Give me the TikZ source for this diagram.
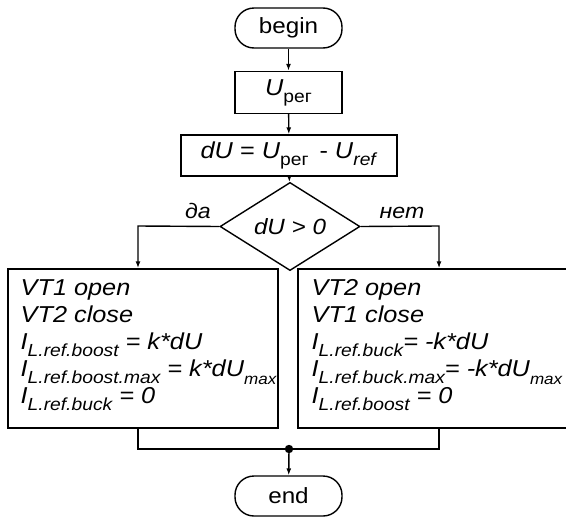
\documentclass[tikz,border=0pt]{standalone}
\usepackage{fontspec}
\setmainfont[FakeStretch=1.1]{Liberation Sans}
\usetikzlibrary{arrows.meta,shapes.geometric}

% subscripts in the flowchart's own style
\newcommand{\lowsub}[1]{\raisebox{-0.3em}{\fontsize{17.5}{17.5}\selectfont #1}}
\newcommand{\lowsubsmall}[1]{\raisebox{-0.34em}{\fontsize{15.5}{15.5}\selectfont #1}}

\begin{document}
\begin{tikzpicture}[x=1pt,y=-1pt,
  line width=1.4pt,
  every node/.style={font=\fontsize{23}{27}\selectfont, inner sep=0pt},
  term/.style={draw, rectangle, rounded corners=19pt, minimum width=107pt, minimum height=40pt, font=\fontsize{22}{26}\selectfont},
  proc/.style={draw, rectangle, minimum height=42pt},
  cond/.style={draw, diamond, minimum width=140pt, minimum height=53pt, font=\fontsize{22}{25}\selectfont\itshape},
  action/.style={draw, rectangle, minimum width=270pt, minimum height=159pt},
  actiontext/.style={anchor=north west, align=left, font=\fontsize{23}{27}\selectfont\itshape},
  flow/.style={-{Latex[length=7pt,width=5pt]}},
  lbl/.style={font=\fontsize{21}{24}\selectfont\itshape, anchor=base}
]
\useasboundingbox (0,0) rectangle (566,517);

\node[term] (begin) at (288.5,28) {begin};
\node[proc, minimum width=107pt] (uper) at (288.5,92.5) {\textit{U}\lowsub{рег}};
\node[proc, minimum width=216pt, minimum height=41pt] (du) at (289,155.5)
  {\textit{dU} = \textit{U}\lowsub{рег}\, - \textit{U}\lowsub{\textit{ref}}};
\node[cond] (cond) at (290,226.5) {dU > 0};

% the two branches: boxes and their statements
\node[action] (left) at (143,348.5) {};
\node[action] (right) at (433,348.5) {};

\node[actiontext] (lefttext) at (20,279) {VT1 open\\
VT2 close\\
I\lowsub{\textit{L.ref.boost}} = k*dU\\
I\lowsub{\textit{L.ref.boost.max}} = k*dU\lowsubsmall{\textit{max}}\\
I\lowsub{\textit{L.ref.buck}} = 0};

\node[actiontext] (righttext) at (311,279) {VT2 open\\
VT1 close\\
I\lowsub{\textit{L.ref.buck}}= -k*dU\\
I\lowsub{\textit{L.ref.buck.max}}= -k*dU\lowsubsmall{\textit{max}}\\
I\lowsub{\textit{L.ref.boost}} = 0};

\node[term] (end) at (288.5,496) {end};

\coordinate (join) at (289,449);
\coordinate (lcorner) at (138,226);
\coordinate (rcorner) at (439,226);

\draw[flow] (begin) -- (uper);
\draw[flow] (uper) -- (du);
\draw[flow] (du) -- (cond);
\draw[flow] (cond.west) -- (lcorner) -- (lcorner |- left.north);
\draw[flow] (cond.east) -- (rcorner) -- (rcorner |- right.north);
\draw (lcorner |- left.south) -- (lcorner |- join) -- (join);
\draw (rcorner |- right.south) -- (rcorner |- join) -- (join);
\fill (join) circle (4.2pt);
\draw[flow] (join) -- (end);

\node[lbl] (yes) at (198,218) {да};
\node[lbl] (no) at (402,218) {нет};
\end{tikzpicture}
\end{document}
